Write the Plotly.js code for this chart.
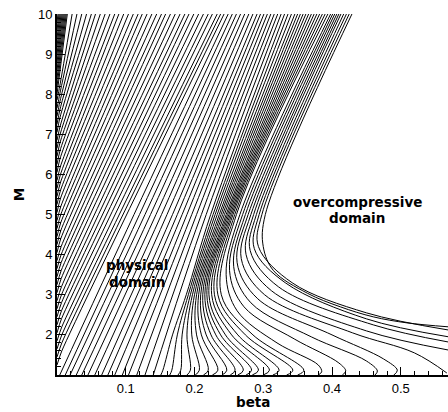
<!DOCTYPE html>
<html>
<head>
<meta charset="utf-8">
<script src="https://cdn.plot.ly/plotly-3.0.1.min.js"></script>
<style>
  html, body { margin: 0; padding: 0; background: #fff; }
  #chart { width: 448px; height: 412px; }
</style>
</head>
<body>
<div id="chart"></div>
<script>
// Lines of the physical family that leave the beta = 0 axis:
// M where each meets the axis, a point just off the axis where the line steepens,
// and beta where it reaches M = 10.
const axisM = [9.8, 9.6, 9.4, 9.2, 9.0, 8.8, 8.6, 8.4, 8.2, 8.0,
  7.85, 7.65, 7.45, 7.25, 7.05, 6.85, 6.65, 6.45, 6.25, 6.05, 5.85, 5.65, 5.45, 5.25, 5.05,
  4.85, 4.65, 4.45, 4.25, 4.05, 3.85, 3.65, 3.45, 3.25, 3.05, 2.85, 2.65, 2.45, 2.25, 2.05,
  1.85, 1.65, 1.45, 1.25];
const axisKneeM = [null, null, null, null, null, null, null, null, null, null,
  8.2, 8.0, 7.8, 7.6, 7.4, 7.2, 7.0, 6.8, 6.6, 6.4, 6.2, 6.0, 5.8, 5.6, 5.4,
  5.2, 5.0, 4.8, 4.6, 4.4, 4.2, 4.0, 3.8, 3.6, 3.4, 3.2, 3.0, 2.8, 2.6, 2.4,
  2.2, 2.0, 1.8, 1.6];
const axisKneeBeta = [null, null, null, null, null, null, null, null, null, null,
  0.004, 0.004, 0.004, 0.004, 0.004, 0.0045, 0.0045, 0.0045, 0.0045, 0.0045, 0.005, 0.005,
  0.005, 0.005, 0.005, 0.0055, 0.0055, 0.0055, 0.0055, 0.0055, 0.006, 0.006, 0.006, 0.006,
  0.006, 0.0065, 0.0065, 0.0065, 0.0065, 0.0065, 0.007, 0.007, 0.007, 0.007];
const axisTopBeta = [0.0015, 0.003, 0.0045, 0.006, 0.0075, 0.009, 0.0105, 0.012, 0.0135, 0.015,
  0.022, 0.029, 0.036, 0.043, 0.050, 0.056, 0.063, 0.070, 0.077, 0.084, 0.090, 0.097, 0.104,
  0.111, 0.118, 0.124, 0.131, 0.138, 0.145, 0.152, 0.158, 0.165, 0.172, 0.179, 0.186, 0.192,
  0.199, 0.206, 0.213, 0.220, 0.226, 0.233, 0.238, 0.243];

// Curves that run from M = 10 down to the M = 1 axis or out through the right edge.
// Each curve: beta values and the matching M values.
const curveBeta = [
  [0.249, 0.112, 0.004], [0.255, 0.120, 0.012], [0.261, 0.128, 0.019], [0.267, 0.136, 0.028],
  [0.273, 0.144, 0.036], [0.279, 0.152, 0.045], [0.285, 0.160, 0.055], [0.291, 0.168, 0.065],
  [0.296, 0.175, 0.074], [0.301, 0.182, 0.084], [0.306, 0.189, 0.095], [0.311, 0.196, 0.104],
  [0.316, 0.203, 0.116], [0.321, 0.210, 0.128], [0.326, 0.217, 0.140],
  [0.331, 0.2235, 0.188, 0.168, 0.154, 0.151],
  [0.336, 0.2270, 0.191, 0.175, 0.167, 0.164],
  [0.341, 0.2300, 0.194, 0.182, 0.180, 0.176],
  [0.346, 0.2330, 0.197, 0.189, 0.194, 0.189],
  [0.350, 0.2360, 0.200, 0.196, 0.207, 0.201],
  [0.354, 0.2385, 0.203, 0.203, 0.220, 0.213],
  [0.358, 0.2410, 0.206, 0.210, 0.234, 0.226],
  [0.362, 0.2435, 0.209, 0.217, 0.247, 0.240],
  [0.366, 0.2460, 0.212, 0.224, 0.259, 0.252],
  [0.370, 0.2480, 0.215, 0.231, 0.271, 0.263],
  [0.374, 0.2500, 0.218, 0.238, 0.283, 0.275],
  [0.378, 0.2520, 0.221, 0.245, 0.293, 0.284],
  [0.382, 0.2540, 0.225, 0.254, 0.309, 0.300],
  [0.386, 0.2560, 0.229, 0.263, 0.323, 0.314],
  [0.390, 0.2585, 0.234, 0.274, 0.343, 0.334],
  [0.394, 0.2610, 0.239, 0.285, 0.359, 0.350],
  [0.398, 0.266, 0.246, 0.262, 0.320, 0.380, 0.385, 0.380],
  [0.401, 0.270, 0.251, 0.272, 0.345, 0.410, 0.420, 0.415],
  [0.404, 0.274, 0.257, 0.282, 0.370, 0.450, 0.466, 0.4625],
  [0.407, 0.278, 0.262, 0.292, 0.400, 0.475, 0.495, 0.490],
  [0.410, 0.282, 0.268, 0.302, 0.430, 0.520, 0.567],
  [0.413, 0.286, 0.275, 0.312, 0.450, 0.570],
  [0.417, 0.290, 0.281, 0.322, 0.460, 0.570],
  [0.421, 0.294, 0.287, 0.332, 0.450, 0.570],
  [0.425, 0.298, 0.293, 0.342, 0.450, 0.570],
  [0.429, 0.303, 0.300, 0.315, 0.364, 0.412, 0.460, 0.509, 0.570]
];
const curveM = [
  [10, 5, 1], [10, 5, 1], [10, 5, 1], [10, 5, 1], [10, 5, 1], [10, 5, 1], [10, 5, 1],
  [10, 5, 1], [10, 5, 1], [10, 5, 1], [10, 5, 1], [10, 5, 1], [10, 5, 1], [10, 5, 1], [10, 5, 1],
  [10, 5, 3, 2, 1.12, 1], [10, 5, 3, 2, 1.12, 1], [10, 5, 3, 2, 1.12, 1], [10, 5, 3, 2, 1.12, 1],
  [10, 5, 3, 2, 1.12, 1], [10, 5, 3, 2, 1.12, 1], [10, 5, 3, 2, 1.12, 1], [10, 5, 3, 2, 1.12, 1],
  [10, 5, 3, 2, 1.12, 1], [10, 5, 3, 2, 1.12, 1], [10, 5, 3, 2, 1.12, 1], [10, 5, 3, 2, 1.12, 1],
  [10, 5, 3, 2, 1.12, 1], [10, 5, 3, 2, 1.12, 1], [10, 5, 3, 2, 1.12, 1], [10, 5, 3, 2, 1.12, 1],
  [10, 5, 3.5, 2.6, 1.8, 1.25, 1.08, 1],
  [10, 5, 3.6, 2.7, 1.9, 1.3, 1.1, 1],
  [10, 5, 3.7, 2.8, 1.95, 1.35, 1.1, 1],
  [10, 5, 3.8, 2.9, 2.0, 1.4, 1.12, 1],
  [10, 5, 3.9, 3.0, 2.05, 1.55, 1.05],
  [10, 5, 4.0, 3.1, 2.1, 1.62],
  [10, 5, 4.1, 3.2, 2.25, 1.82],
  [10, 5, 4.15, 3.3, 2.4, 1.95],
  [10, 5, 4.2, 3.3, 2.55, 2.12],
  [10, 5, 4.2, 3.6, 3.04, 2.7, 2.45, 2.3, 2.2]
];

const xTicks = [0.1, 0.2, 0.3, 0.4, 0.5];
const xTickText = ['0.1', '0.2', '0.3', '0.4', '0.5'];
const yTicks = [2, 3, 4, 5, 6, 7, 8, 9, 10];
const yTickText = ['2', '3', '4', '5', '6', '7', '8', '9', '10'];

const traces = [];
axisM.forEach((m, i) => {
  const xs = [0], ys = [m];
  if (axisKneeM[i] !== null) { xs.push(axisKneeBeta[i]); ys.push(axisKneeM[i]); }
  xs.push(axisTopBeta[i]); ys.push(10);
  traces.push({ x: xs, y: ys, mode: 'lines', type: 'scatter',
    line: { color: '#000', width: 1, shape: 'spline', smoothing: 0.6 }, hoverinfo: 'skip' });
});
curveBeta.forEach((b, i) => {
  traces.push({ x: b, y: curveM[i], mode: 'lines', type: 'scatter',
    line: { color: '#000', width: 1, shape: 'spline', smoothing: 1 }, hoverinfo: 'skip' });
});

const tickFont = { family: 'Liberation Sans, Arial, sans-serif', size: 13, color: '#000' };
const boldFont = { family: 'DejaVu Sans, sans-serif', size: 13.5, color: '#000' };

// Region names, one annotation per text line
const regionText = ['physical', 'domain', 'overcompressive', 'domain'];
const regionBeta = [0.116, 0.116, 0.437, 0.437];
const regionM = [3.74, 3.33, 5.31, 4.91];

const annotations = regionText.map((t, i) => ({
  x: regionBeta[i], y: regionM[i], xref: 'x', yref: 'y', text: '<b>' + t + '</b>',
  showarrow: false, font: boldFont, align: 'center'
}));
// x-axis title placed just under the tick labels
annotations.push({ x: 0.5, y: 0, xref: 'paper', yref: 'paper', yanchor: 'top',
  yshift: -18, borderpad: 0, text: '<b>beta</b>', showarrow: false, font: boldFont });

const layout = {
  width: 448, height: 412,
  margin: { l: 57, r: 0, t: 14, b: 37 },
  paper_bgcolor: '#fff', plot_bgcolor: '#fff',
  showlegend: false,
  xaxis: {
    range: [0, 0.5687], showgrid: false, zeroline: false,
    showline: true, linecolor: '#000', linewidth: 2,
    ticks: 'inside', ticklen: 8, tickwidth: 1, tickcolor: '#000',
    tickmode: 'array', tickvals: xTicks, ticktext: xTickText, tickfont: tickFont,
    minor: { dtick: 0.02, tick0: 0, ticks: 'inside', ticklen: 4, tickwidth: 1, tickcolor: '#000', showgrid: false }
  },
  yaxis: {
    range: [1, 10], showgrid: false, zeroline: false,
    showline: true, linecolor: '#000', linewidth: 2,
    ticks: 'inside', ticklen: 8, tickwidth: 1, tickcolor: '#000',
    tickmode: 'array', tickvals: yTicks, ticktext: yTickText, tickfont: tickFont,
    minor: { dtick: 0.2, tick0: 1, ticks: 'inside', ticklen: 4, tickwidth: 1, tickcolor: '#000', showgrid: false },
    title: { text: '<b>M</b>', font: boldFont, standoff: 10 }
  },
  annotations: annotations
};

Plotly.newPlot('chart', traces, layout, { staticPlot: true, displayModeBar: false });
</script>
</body>
</html>
